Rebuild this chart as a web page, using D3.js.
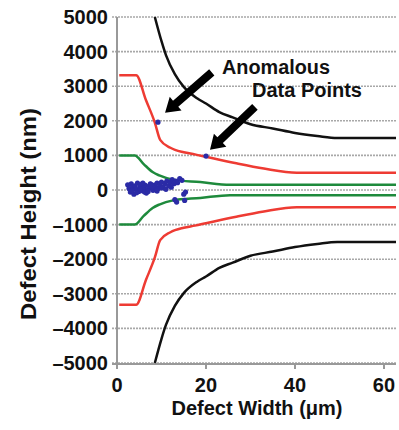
<!DOCTYPE html>
<html>
<head>
<meta charset="utf-8">
<script src="https://cdn.jsdelivr.net/npm/d3@7"></script>
<style>
  body { margin: 0; background: #fff; }
  text { font-family: "Liberation Sans", Arial, sans-serif; font-weight: bold; fill: #111; }
</style>
</head>
<body>
<svg id="chart" width="399" height="430"></svg>
<script>
// tolerance curves (width um, height nm)
var blackUpper = [[8.5,5000],[10,4300],[11,3900],[13,3350],[15,2980],[18,2650],[20,2500],[23,2250],[26,2100],[30,1900],[35,1780],[40,1650],[45,1560],[49.5,1500],[62.7,1500]];
var redUpper = [[0.5,3320],[4.3,3320],[6.5,2600],[8.5,1950],[9.7,1450],[12,1220],[15,1090],[17.5,1030],[20,960],[26.5,780],[33,620],[40.4,500],[62.7,500]];
var greenUpper = [[0.5,1000],[4,1000],[6,750],[8,520],[9.5,420],[12.6,300],[18.7,230],[25.4,150],[62.7,150]];

// measured defects
var pointsX = [2.4,2.7,3.0,3.2,3.5,3.8,4.0,4.3,4.6,4.9,5.1,5.4,5.7,6.0,6.3,6.6,6.9,7.2,7.5,7.8,8.1,8.4,8.7,9.0,9.3,9.6,10.0,10.4,10.8,11.2,11.6,12.0,12.4,12.8,13.2,13.6,14.1,14.6,13.0,13.4,15.0,15.2,15.4,3.4,4.4,5.2,6.2,7.0,8.0,9.0,10.2,11.0,12.2,5.8,7.6];
var pointsY = [150,40,-60,180,90,-120,120,20,200,-40,90,160,-20,60,140,-90,20,110,180,50,-10,140,80,200,40,150,230,90,190,260,120,220,300,180,260,210,330,280,-280,-350,-120,-300,-60,-20,-80,30,-60,-40,100,-30,60,20,80,200,160];
var anomX = [9.2, 20];
var anomY = [1960, 980];

var yTicks = [5000,4000,3000,2000,1000,0,-1000,-2000,-3000,-4000,-5000];
var xTicks = [0,20,40,60];

// arrows: [fromX, fromY, toX, toY] in data units
var arrows = [[21.3,3400,10.8,2230],[31,2400,20.9,1160]];

var svg = d3.select("#chart");

var xScale = d3.scaleLinear().domain([0, 62.7]).range([117, 396]);
var yScale = d3.scaleLinear().domain([-5000, 5000]).range([363, 17]);

// gridlines
svg.append("g").selectAll("line")
	.data(yTicks)
	.enter().append("line")
	.attr("x1", 112).attr("x2", 396)
	.attr("y1", function(d){ return yScale(d); })
	.attr("y2", function(d){ return yScale(d); })
	.attr("stroke", "#a8a8a8")
	.attr("stroke-width", 1.6)
	.attr("stroke-dasharray", "2,1");

// axes lines
svg.append("line").attr("x1", 117).attr("x2", 117).attr("y1", 17).attr("y2", 365)
	.attr("stroke", "#999").attr("stroke-width", 2);
svg.append("line").attr("x1", 112).attr("x2", 396).attr("y1", 364).attr("y2", 364)
	.attr("stroke", "#999").attr("stroke-width", 2);

svg.append("g").selectAll("line")
	.data(xTicks)
	.enter().append("line")
	.attr("x1", function(d){ return xScale(d); })
	.attr("x2", function(d){ return xScale(d); })
	.attr("y1", 364).attr("y2", 369)
	.attr("stroke", "#999").attr("stroke-width", 2);

// tick labels
svg.append("g").selectAll("text")
	.data(yTicks)
	.enter().append("text")
	.attr("x", 108)
	.attr("y", function(d){ return yScale(d) + 7; })
	.attr("text-anchor", "end")
	.style("font-size", "20px")
	.text(function(d){ return d < 0 ? "\u2013" + (-d) : d; });

svg.append("g").selectAll("text")
	.data(xTicks)
	.enter().append("text")
	.attr("x", function(d){ return xScale(d); })
	.attr("y", 392)
	.attr("text-anchor", "middle")
	.style("font-size", "20px")
	.text(function(d){ return d; });

// axis titles
svg.append("text")
	.attr("x", 257).attr("y", 415)
	.attr("text-anchor", "middle")
	.attr("textLength", 171).attr("lengthAdjust", "spacingAndGlyphs")
	.style("font-size", "21px")
	.text("Defect Width (\u03bcm)");

svg.append("text")
	.attr("transform", "translate(36,214) rotate(-90)")
	.attr("text-anchor", "middle")
	.attr("textLength", 212).attr("lengthAdjust", "spacingAndGlyphs")
	.style("font-size", "22px")
	.text("Defect Height (nm)");

// curves, upper and mirrored lower
var line = d3.line()
	.x(function(d){ return xScale(d[0]); })
	.y(function(d){ return yScale(d[1]); })
	.curve(d3.curveMonotoneX);

function mirror(arr) {
	return arr.map(function(d){ return [d[0], -d[1]]; });
}

var curves = [
	[blackUpper, "#111"], [redUpper, "#ee3b33"], [greenUpper, "#1e8a3c"]
];
curves.forEach(function(c){
	[c[0], mirror(c[0])].forEach(function(data){
		svg.append("path")
			.datum(data)
			.attr("d", line)
			.attr("fill", "none")
			.attr("stroke", c[1])
			.attr("stroke-width", 2.5);
	});
});

// data points
svg.append("g").selectAll("circle")
	.data(pointsX)
	.enter().append("circle")
	.attr("cx", function(d){ return xScale(d); })
	.attr("cy", function(d, i){ return yScale(pointsY[i]); })
	.attr("r", 2.6)
	.attr("fill", "#2b2ba6");

svg.append("g").selectAll("circle")
	.data(anomX)
	.enter().append("circle")
	.attr("cx", function(d){ return xScale(d); })
	.attr("cy", function(d, i){ return yScale(anomY[i]); })
	.attr("r", 2.6)
	.attr("fill", "#2b2ba6");

// arrows
arrows.forEach(function(a){
	var x1 = xScale(a[0]), y1 = yScale(a[1]), x2 = xScale(a[2]), y2 = yScale(a[3]);
	var dx = x2 - x1, dy = y2 - y1, len = Math.sqrt(dx*dx + dy*dy);
	var ux = dx/len, uy = dy/len, px = -uy, py = ux;
	var headLen = 14, headW = 9, shaftW = 4;
	var bx = x2 - ux*headLen, by = y2 - uy*headLen;
	var pts = [
		[x1 + px*shaftW, y1 + py*shaftW],
		[bx + px*shaftW, by + py*shaftW],
		[bx + px*headW, by + py*headW],
		[x2, y2],
		[bx - px*headW, by - py*headW],
		[bx - px*shaftW, by - py*shaftW],
		[x1 - px*shaftW, y1 - py*shaftW]
	];
	svg.append("polygon")
		.attr("points", pts.map(function(p){ return p.join(","); }).join(" "))
		.attr("fill", "#000");
});

// annotation
svg.append("text")
	.attr("x", 222).attr("y", 74)
	.attr("textLength", 108).attr("lengthAdjust", "spacingAndGlyphs")
	.style("font-size", "20px")
	.text("Anomalous");
svg.append("text")
	.attr("x", 252).attr("y", 97)
	.attr("textLength", 110).attr("lengthAdjust", "spacingAndGlyphs")
	.style("font-size", "20px")
	.text("Data Points");
</script>
</body>
</html>
